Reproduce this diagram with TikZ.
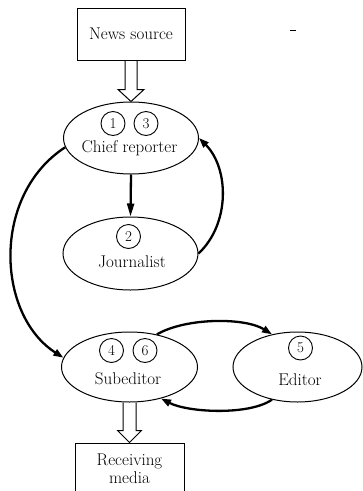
\documentclass[tikz,border=0pt]{standalone}
\usetikzlibrary{shapes.geometric,arrows.meta,calc}
\begin{document}
\begin{tikzpicture}[x=1pt,y=-1pt,
  role/.style={draw, ellipse, line width=1pt, inner sep=0pt},
  box/.style={draw, rectangle, line width=1pt, inner sep=0pt, align=center, font=\fontsize{17}{18}\selectfont},
  num/.style={draw, circle, line width=0.9pt, minimum size=24pt, inner sep=0pt, font=\fontsize{15}{15}\selectfont},
  lbl/.style={anchor=base, inner sep=0pt, font=\fontsize{17}{20}\selectfont},
  flow/.style={line width=2.3pt, -{Triangle[length=10pt,width=7pt]}},
  hollow/.style={line width=1pt, line join=miter}]
\useasboundingbox (0,0) rectangle (363,491);

% boxes
\node[box, minimum width=108pt, minimum height=52pt] (news) at (131,34) {News source};
\node[box, minimum width=109pt, minimum height=52pt] (rec) at (129.5,469) {Receiving\\media};

% ellipses
\node[role, minimum width=135pt, minimum height=72pt] (chief) at (131,138) {};
\node[num] (n1) at (113,123.5) {1};
\node[num] (n3) at (146,123.5) {3};
\node[lbl] (chieft) at (129.5,152.5) {Chief reporter};

\node[role, minimum width=135pt, minimum height=73pt] (journ) at (130.5,253.5) {};
\node[num] (n2) at (128.5,236.5) {2};
\node[lbl] (journt) at (132,267) {Journalist};

\node[role, minimum width=136pt, minimum height=70pt] (sub) at (129.5,367) {};
\node[num] (n4) at (111.5,350.5) {4};
\node[num] (n6) at (145,350.5) {6};
\node[lbl] (subt) at (128,384) {Subeditor};

\node[role, minimum width=129pt, minimum height=70pt] (editor) at (297.5,367) {};
\node[num] (n5) at (300.5,348) {5};
\node[lbl] (editort) at (300,385) {Editor};

% hollow arrows
\draw[hollow] ($(news.south)+(-6,0)$) -- ($(chief.north)+(-6,-12)$) -- ($(chief.north)+(-13,-12)$)
  -- (chief.north) -- ($(chief.north)+(13,-12)$) -- ($(chief.north)+(6,-12)$) -- ($(news.south)+(6,0)$);
\draw[hollow] ($(sub.south)+(-6.5,0)$) -- ($(rec.north)+(-6.5,-12)$) -- ($(rec.north)+(-12,-12)$)
  -- (rec.north) -- ($(rec.north)+(12,-12)$) -- ($(rec.north)+(6.5,-12)$) -- ($(sub.south)+(6.5,0)$);

% flows
\draw[line width=2.3pt, -{Triangle[length=13pt,width=7pt]}] (chief.south) -- (journ.north);
\draw[flow] (journ.east) .. controls +(32,-30) and +(30,30) .. (chief.east);
\draw[flow] (chief.188) .. controls +(-74,48) and +(-67,-43) .. (sub.172);
\draw[flow] (sub.50) .. controls +(29,-17) and +(-27,-17) .. (editor.128);
\draw[flow] (editor.232) .. controls +(-23,16) and +(27,14) .. (sub.-45);

% stray mark
\draw[line width=1pt] (290,30) -- (296,30);
\end{tikzpicture}
\end{document}
